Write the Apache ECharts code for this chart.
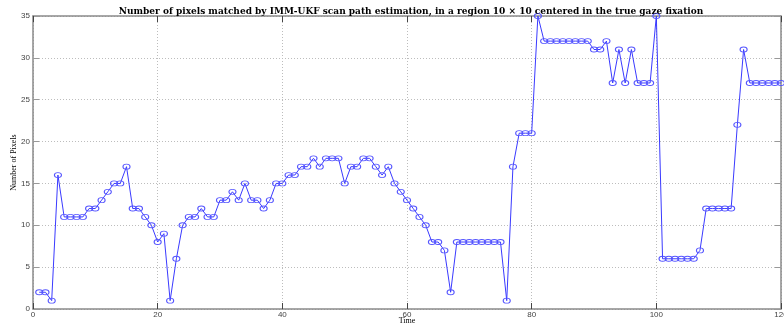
<!DOCTYPE html>
<html>
<head>
<meta charset="utf-8">
<script src="https://cdn.jsdelivr.net/npm/echarts@6/dist/echarts.min.js"></script>
<style>
html,body{margin:0;padding:0;background:#fff;}
#chart{width:784px;height:325px;}
</style>
</head>
<body>
<div id="chart"></div>
<script>
const titleText = 'Number of pixels matched by IMM-UKF scan path estimation, in a region 10 \u00d7 10 centered in the true gaze fixation';
const xName = 'Time';
const yName = 'Number of Pixels';
const timeSteps = [];
for (let i = 1; i <= 120; i++) timeSteps.push(i);
const matchedPixels = [
  2, 2, 1, 16, 11, 11, 11, 11, 12, 12,
  13, 14, 15, 15, 17, 12, 12, 11, 10, 8,
  9, 1, 6, 10, 11, 11, 12, 11, 11, 13,
  13, 14, 13, 15, 13, 13, 12, 13, 15, 15,
  16, 16, 17, 17, 18, 17, 18, 18, 18, 15,
  17, 17, 18, 18, 17, 16, 17, 15, 14, 13,
  12, 11, 10, 8, 8, 7, 2, 8, 8, 8,
  8, 8, 8, 8, 8, 1, 17, 21, 21, 21,
  35, 32, 32, 32, 32, 32, 32, 32, 32, 31,
  31, 32, 27, 31, 27, 31, 27, 27, 27, 35,
  6, 6, 6, 6, 6, 6, 7, 12, 12, 12,
  12, 12, 22, 31, 27, 27, 27, 27, 27, 27
];
const xTicks = {min: 0, max: 120, interval: 20};
const yTicks = {min: 0, max: 35, interval: 5};

const axisColor = '#8a8a8a';
const labelFont = {fontFamily: 'Liberation Sans', fontSize: 8, color: '#444'};
const splitStyle = {show: true, lineStyle: {color: '#bdbdbd', type: [1, 2], width: 1}};

const chart = echarts.init(document.getElementById('chart'), null, {renderer: 'canvas'});
chart.setOption({
  animation: false,
  backgroundColor: '#fff',
  title: {
    text: titleText, left: 406, top: 2, textAlign: 'center',
    textStyle: {fontFamily: 'DejaVu Serif', fontWeight: 'bold', fontSize: 9, color: '#000'}
  },
  grid: {left: 33, right: 3, top: 16, bottom: 16, containLabel: false, outerBoundsMode: 'none'},
  xAxis: [{
    type: 'value', min: xTicks.min, max: xTicks.max, interval: xTicks.interval,
    name: xName, nameLocation: 'middle', nameGap: 8, nameMoveOverlap: false,
    nameTextStyle: {fontFamily: 'Liberation Serif', fontSize: 8, color: '#000'},
    axisLine: {show: true, onZero: false, lineStyle: {color: axisColor, width: 1.5}},
    axisTick: {show: true, inside: true, length: 6, lineStyle: {color: '#444', width: 1}},
    axisLabel: Object.assign({margin: 2}, labelFont),
    splitLine: splitStyle
  }, {
    type: 'value', position: 'top', min: xTicks.min, max: xTicks.max, interval: xTicks.interval,
    axisLine: {show: true, onZero: false, lineStyle: {color: axisColor, width: 1.5}},
    axisTick: {show: true, inside: true, length: 6, lineStyle: {color: '#444', width: 1}},
    axisLabel: {show: false}, splitLine: {show: false}
  }],
  yAxis: [{
    type: 'value', min: yTicks.min, max: yTicks.max, interval: yTicks.interval,
    name: yName, nameLocation: 'middle', nameGap: 15, nameRotate: 90, nameMoveOverlap: false,
    nameTextStyle: {fontFamily: 'Liberation Serif', fontSize: 8, color: '#000'},
    axisLine: {show: true, onZero: false, lineStyle: {color: axisColor, width: 1.5}},
    axisTick: {show: true, inside: true, length: 6, lineStyle: {color: '#999', width: 1}},
    axisLabel: Object.assign({margin: 3}, labelFont),
    splitLine: splitStyle
  }, {
    type: 'value', position: 'right', min: yTicks.min, max: yTicks.max, interval: yTicks.interval,
    axisLine: {show: true, onZero: false, lineStyle: {color: axisColor, width: 1.5}},
    axisTick: {show: true, inside: true, length: 6, lineStyle: {color: '#999', width: 1}},
    axisLabel: {show: false}, splitLine: {show: false}
  }],
  series: [{
    type: 'line',
    data: timeSteps.map((t, i) => [t, matchedPixels[i]]),
    xAxisIndex: 0, yAxisIndex: 0,
    lineStyle: {color: '#3a3aff', width: 1},
    symbol: 'circle', symbolSize: [7, 5], showAllSymbol: true,
    itemStyle: {color: 'rgba(255,255,255,0)', borderColor: '#5555ff', borderWidth: 1},
    clip: false
  }]
});
</script>
</body>
</html>
